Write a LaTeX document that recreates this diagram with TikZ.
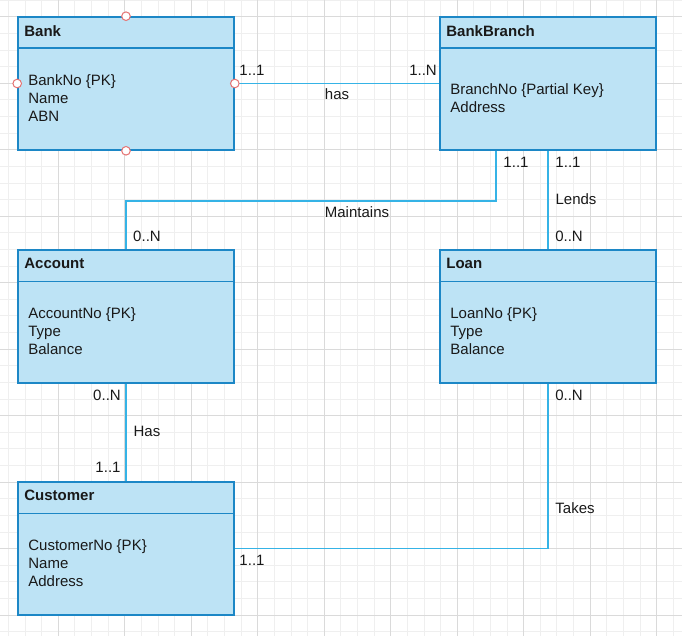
\documentclass[tikz,border=0pt]{standalone}
\usepackage{fontspec}
\setmainfont{Liberation Sans}
\usepackage{xcolor}
\usepackage{tikz}
\usetikzlibrary{positioning,calc}

\definecolor{boxfill}{HTML}{BDE3F5}
\definecolor{boxline}{HTML}{1C87C6}
\definecolor{linkline}{HTML}{35B3E6}
\definecolor{gridminor}{HTML}{EFEFEF}
\definecolor{gridmajor}{HTML}{DADADA}
\definecolor{portred}{HTML}{E57373}

\tikzset{
    entity/.style={draw=boxline, fill=boxfill, line width=1.6pt,
        minimum width=216pt, minimum height=133pt, inner sep=0pt},
    header/.style={draw=boxline, line width=1.4pt},
    title/.style={anchor=west, inner sep=0pt, font=\fontsize{15}{18}\selectfont\bfseries},
    attrs/.style={anchor=west, inner sep=0pt, align=left},
    link/.style={draw=linkline, line width=1.7pt},
    card/.style={inner sep=0pt},
    port/.style={draw=portred, fill=white, line width=1pt}
}

\begin{document}
\begin{tikzpicture}[x=1pt, y=-1pt,
    every node/.style={font=\fontsize{15}{18}\selectfont, text=black!90}]
    \useasboundingbox (0,0) rectangle (682,636);

    % grid
    \foreach \i in {0,...,40}
        \draw[gridminor, line width=0.8pt] ({8.4+16.62*\i},0) -- ++(0,636);
    \foreach \i in {0,...,38}
        \draw[gridminor, line width=0.8pt] (0,{0.1+16.62*\i}) -- ++(682,0);
    \foreach \i in {3,7,...,39}
        \draw[gridmajor, line width=0.8pt] ({8.4+16.62*\i},0) -- ++(0,636);
    \foreach \i in {1,5,...,37}
        \draw[gridmajor, line width=0.8pt] (0,{0.1+16.62*\i}) -- ++(682,0);

    % entities
    \node[entity] (bank) at (126,83.5) {};
    \draw[header] ($(bank.north west)+(0,32)$) -- ($(bank.north east)+(0,32)$);
    \node[title] (banktitle) at ($(bank.north west)+(7,14.5)$) {Bank};
    \node[attrs] (bankattrs) at ($(bank.north west)+(11,81.5)$) {BankNo \{PK\}\\Name\\ABN};

    \node[entity] (branch) at (548,83.5) {};
    \draw[header] ($(branch.north west)+(0,32)$) -- ($(branch.north east)+(0,32)$);
    \node[title] (branchtitle) at ($(branch.north west)+(7,14.5)$) {BankBranch};
    \node[attrs] (branchattrs) at ($(branch.north west)+(11,81.5)$) {BranchNo \{Partial Key\}\\Address};

    \node[entity] (account) at (126,316.5) {};
    \draw[header] ($(account.north west)+(0,32)$) -- ($(account.north east)+(0,32)$);
    \node[title] (accounttitle) at ($(account.north west)+(7,14.5)$) {Account};
    \node[attrs] (accountattrs) at ($(account.north west)+(11,81.5)$) {AccountNo \{PK\}\\Type\\Balance};

    \node[entity] (loan) at (548,316.5) {};
    \draw[header] ($(loan.north west)+(0,32)$) -- ($(loan.north east)+(0,32)$);
    \node[title] (loantitle) at ($(loan.north west)+(7,14.5)$) {Loan};
    \node[attrs] (loanattrs) at ($(loan.north west)+(11,81.5)$) {LoanNo \{PK\}\\Type\\Balance};

    \node[entity] (customer) at (126,548.5) {};
    \draw[header] ($(customer.north west)+(0,32)$) -- ($(customer.north east)+(0,32)$);
    \node[title] (customertitle) at ($(customer.north west)+(7,14.5)$) {Customer};
    \node[attrs] (customerattrs) at ($(customer.north west)+(11,81.5)$) {CustomerNo \{PK\}\\Name\\Address};

    % relationships
    \draw[link] (bank.east) -- (branch.west);
    \draw[link] ($(branch.south)+(-52,0)$) -- ++(0,50) -| (account.north);
    \draw[link] (branch.south) -- (loan.north);
    \draw[link] (account.south) -- (customer.north);
    \draw[link] (loan.south) |- (customer.east);

    \node[card] (hasbank) at (252,70) {1..1};
    \node[card] (hasbranch) at (423,70) {1..N};
    \node[card] (has) at (337,94) {has};
    \node[card] (maintainsbranch) at (516,162) {1..1};
    \node[card] (maintains) at (357,212) {Maintains};
    \node[card] (maintainsaccount) at (147,236) {0..N};
    \node[card] (lendsbranch) at (568,162) {1..1};
    \node[card] (lends) at (576,199) {Lends};
    \node[card] (lendsloan) at (569,236) {0..N};
    \node[card] (holdsaccount) at (107,395) {0..N};
    \node[card] (holds) at (147,431) {Has};
    \node[card] (holdscustomer) at (108,467) {1..1};
    \node[card] (takesloan) at (569,395) {0..N};
    \node[card] (takes) at (575,508) {Takes};
    \node[card] (takescustomer) at (252,560) {1..1};

    % connection points on the selected box
    \foreach \a in {north,south,east,west}
        \draw[port] (bank.\a) circle (4.3pt);
\end{tikzpicture}
\end{document}
